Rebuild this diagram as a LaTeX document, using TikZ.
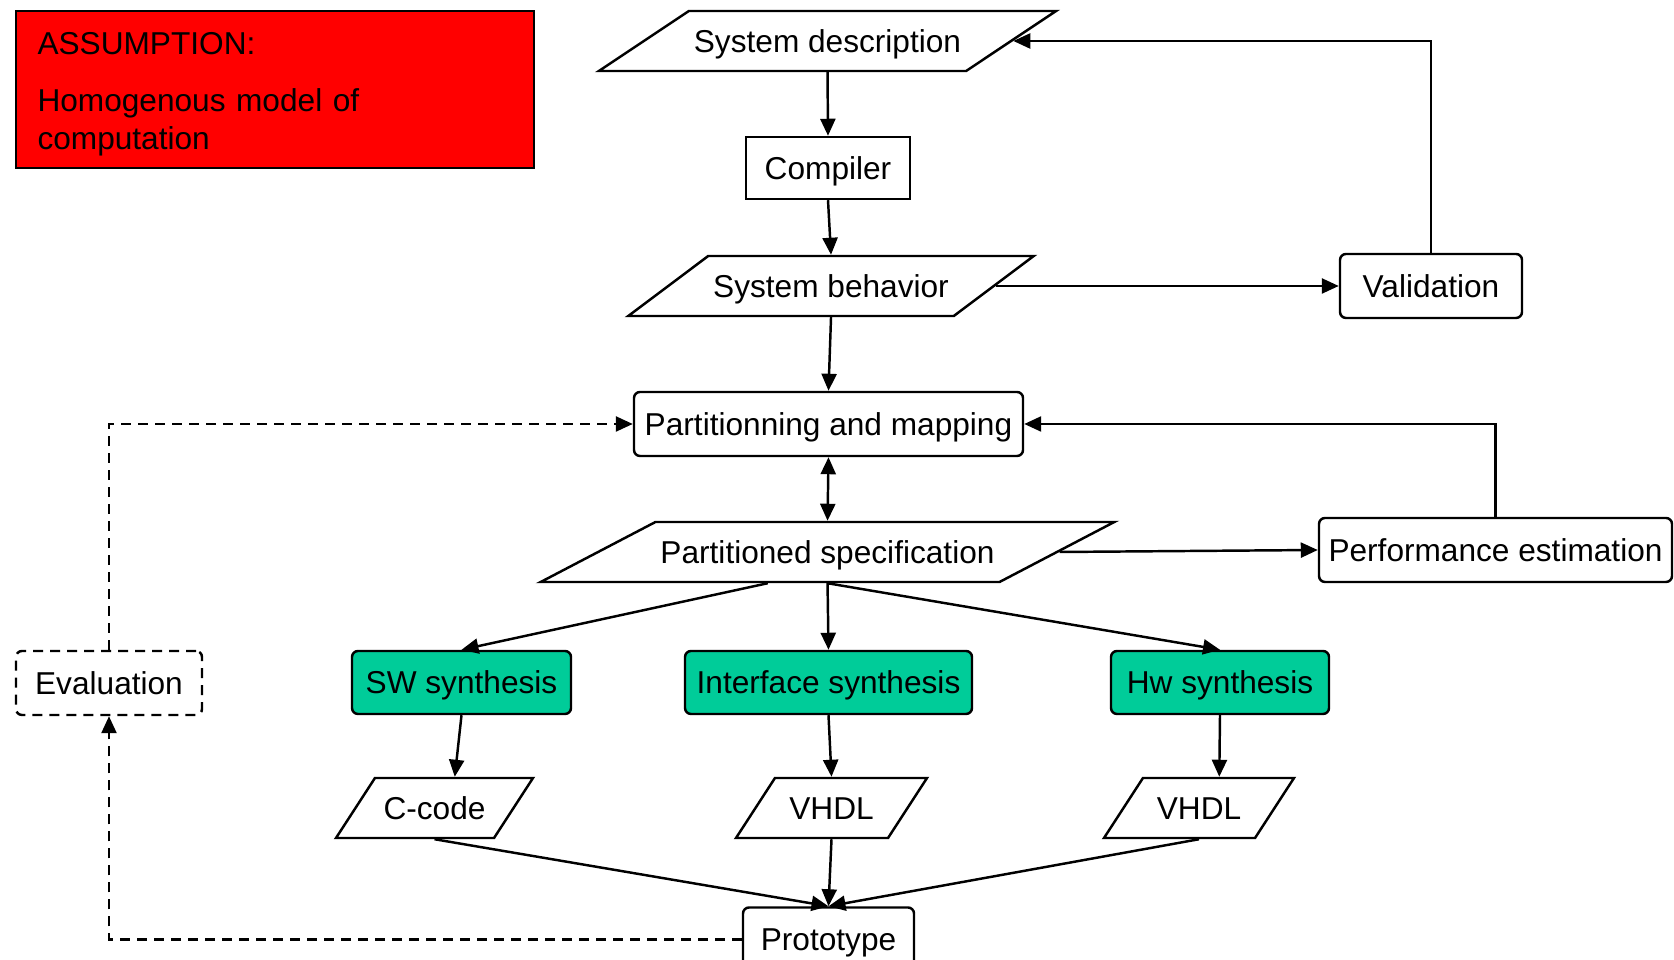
\documentclass[tikz,border=0pt]{standalone}
\usepackage{fontspec}
\setmainfont{Liberation Sans}
\usetikzlibrary{shapes.geometric,arrows.meta}
\definecolor{synthgreen}{RGB}{0,204,153}

\begin{document}
\begin{tikzpicture}[line width=1.4pt,
  >={Triangle[length=0.34cm,width=0.3cm]},
  every node/.style={font=\fontsize{18}{21.5}\selectfont, inner sep=0.1cm, text height=0.6cm, text depth=0.15cm},
  plain/.style={draw, rectangle, minimum height=1.24cm},
  rbox/.style={draw, rectangle, rounded corners=0.12cm, minimum height=1.28cm},
  synth/.style={rbox, fill=synthgreen, minimum height=1.26cm},
  data/.style={draw, trapezium, trapezium stretches body, inner ysep=0.225cm, minimum height=1.2cm},
  evalline/.style={dash pattern=on 0.2cm off 0.14cm}]
  \useasboundingbox (0,0) rectangle (33.48,19.2);
  \node[draw, fill=red, text height=, text depth=, text width=9.5cm, align=left, minimum width=10.36cm, minimum height=3.14cm, inner xsep=0.43cm] (assume) at (5.5,17.41) {\rule{0pt}{0.63cm}ASSUMPTION:\\[0.38cm] Homogenous model of\\ computation};
  \node[data, trapezium left angle=33.7, trapezium right angle=146.3, minimum width=9.02cm] (sysdesc) at (16.55,18.38) {System description};
  \node[plain, minimum width=3.28cm] (compiler) at (16.56,15.84) {Compiler};
  \node[data, trapezium left angle=36.9, trapezium right angle=143.1, minimum width=8.06cm] (sysbeh) at (16.62,13.48) {System behavior};
  \node[rbox, minimum width=3.64cm] (valid) at (28.62,13.48) {Validation};
  \node[rbox, minimum width=7.78cm] (part) at (16.57,10.72) {Partitionning and mapping};
  \node[data, trapezium left angle=27.6, trapezium right angle=152.4, minimum width=11.42cm] (pspec) at (16.55,8.16) {Partitioned specification};
  \node[rbox, minimum width=7.06cm] (perf) at (29.91,8.2) {Performance estimation};
  \node[rbox, evalline, minimum width=3.72cm] (eval) at (2.18,5.54) {Evaluation};
  \node[synth, minimum width=4.38cm] (sw) at (9.23,5.55) {SW synthesis};
  \node[synth, minimum width=5.74cm] (iface) at (16.57,5.55) {Interface synthesis};
  \node[synth, minimum width=4.36cm] (hw) at (24.4,5.55) {Hw synthesis};
  \node[data, trapezium left angle=57, trapezium right angle=123, minimum width=3.94cm] (ccode) at (8.69,3.04) {C-code};
  \node[data, trapezium left angle=57, trapezium right angle=123, minimum width=3.82cm] (vhdla) at (16.63,3.04) {VHDL};
  \node[data, trapezium left angle=57, trapezium right angle=123, minimum width=3.8cm] (vhdlb) at (23.98,3.04) {VHDL};
  \node[rbox, minimum width=3.42cm] (proto) at (16.57,0.41) {Prototype};

  \draw[->] (sysdesc.south) -- (compiler.north);
  \draw[->] (compiler.south) -- (sysbeh.north);
  \draw[->] (sysbeh.right side) -- (valid.west);
  \draw[->] (valid.north) |- (sysdesc.right side);
  \draw[->] (sysbeh.south) -- (part.north);
  \draw[<->] (part.south) -- (pspec.north);
  \draw[->] (pspec.right side) -- (perf.west);
  \draw[->] (perf.north) |- (part.east);
  \draw[->] (pspec.bottom side) -- (sw.north);
  \draw[->] (pspec.south) -- (iface.north);
  \draw[->] (pspec.south) -- (hw.north);
  \draw[->] (sw.south) -- (ccode.top side);
  \draw[->] (iface.south) -- (vhdla.north);
  \draw[->] (hw.south) -- (vhdlb.top side);
  \foreach \n in {ccode, vhdla, vhdlb} { \draw[->] (\n.south) -- (proto.north); }
  \draw[->, evalline] (proto.west) -| (eval.south);
  \draw[->, evalline] (eval.north) |- (part.west);
\end{tikzpicture}
\end{document}
